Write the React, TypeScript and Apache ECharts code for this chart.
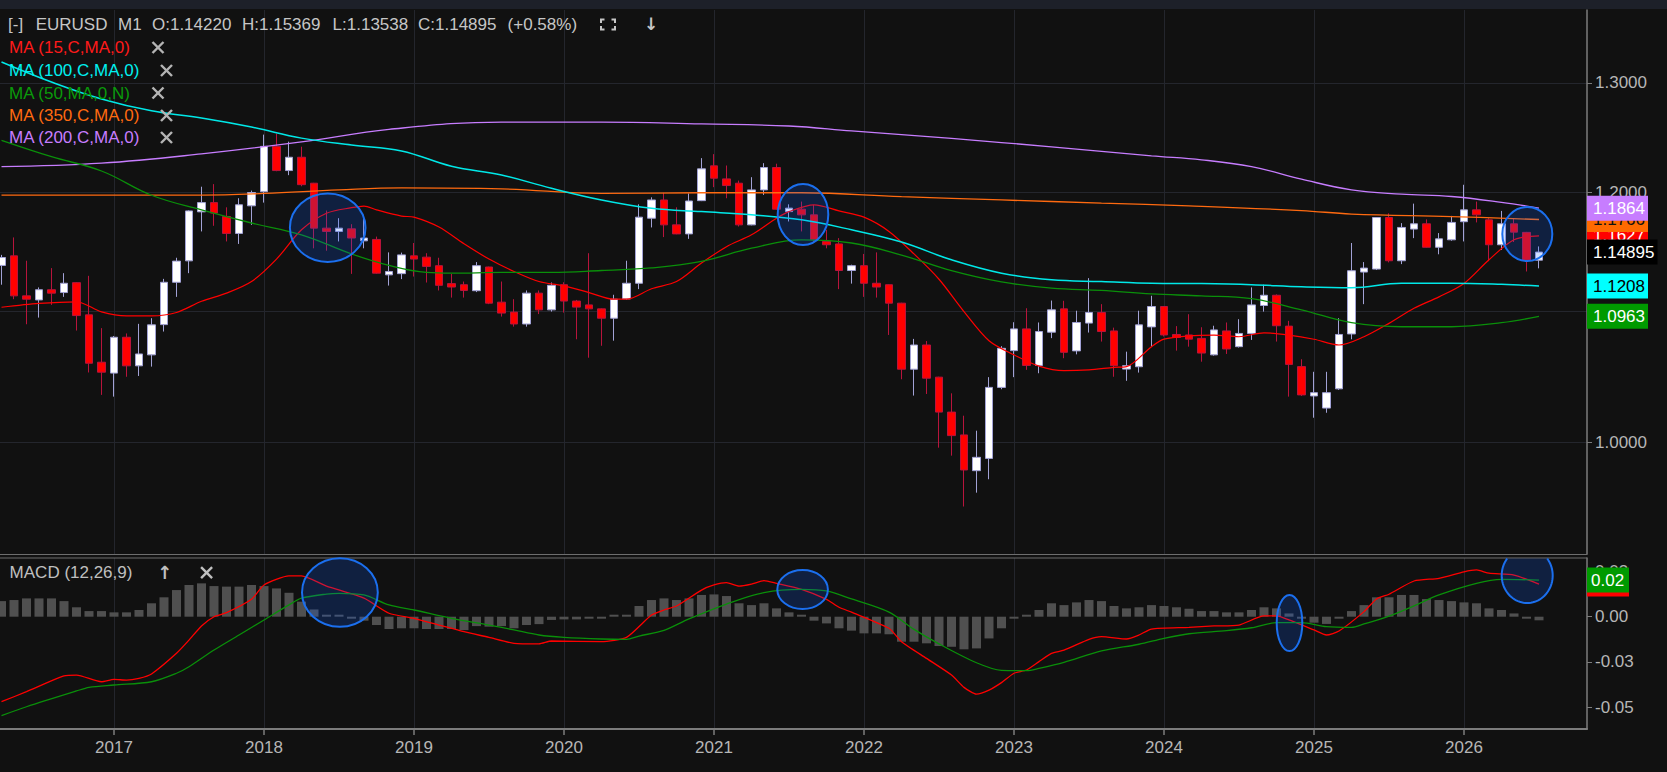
import React, { useEffect, useRef } from "react";
import * as echarts from "echarts";

// ---------- data (monthly EURUSD, index 0 = 2016-04) ----------
const FIRST_YEAR = 2016;
const FIRST_MONTH = 4;

const opens = [
  1.1378, 1.1458, 1.1128, 1.1095, 1.1178, 1.1155, 1.1236, 1.0975, 1.0602, 1.0518,
  1.0797, 1.0574, 1.0659, 1.0897, 1.1239, 1.1416, 1.1832, 1.1912, 1.1792, 1.1647,
  1.1884, 1.2007, 1.2411, 1.2194, 1.2313, 1.2082, 1.1692, 1.1664, 1.1686, 1.1584,
  1.1596, 1.1300, 1.1310, 1.1458, 1.1447, 1.1376, 1.1228, 1.1219, 1.1170, 1.1365,
  1.1077, 1.0997, 1.0902, 1.1150, 1.1015, 1.1219, 1.1086, 1.1055, 1.1023, 1.0948,
  1.1103, 1.1231, 1.1777, 1.1935, 1.1720, 1.1643, 1.1929, 1.2236, 1.2120, 1.2082,
  1.1720, 1.2023, 1.2221, 1.1834, 1.1855, 1.1806, 1.1579, 1.1558, 1.1336, 1.1376,
  1.1231, 1.1219, 1.1069, 1.0548, 1.0736, 1.0487, 1.0223, 1.0054, 0.9795, 0.9883,
  1.0409, 1.0692, 1.0863, 1.0577, 1.0837, 1.1023, 1.0690, 1.0909, 1.0994, 1.0847,
  1.0549, 1.0567, 1.0879, 1.1042, 1.0819, 1.0815, 1.0788, 1.0659, 1.0847, 1.0723,
  1.0827, 1.1050, 1.1133, 1.0885, 1.0568, 1.0344, 1.0253, 1.0398, 1.0823, 1.1323,
  1.1348, 1.1783, 1.1417, 1.1684, 1.1729, 1.1530, 1.1593, 1.1747, 1.1849, 1.1763,
  1.1551, 1.1729, 1.1656, 1.1422,
];
const closes = [
  1.1444, 1.1128, 1.1101, 1.1178, 1.1150, 1.1231, 1.0969, 1.0594, 1.0525, 1.0797,
  1.0574, 1.0666, 1.0895, 1.1239, 1.1414, 1.1840, 1.1912, 1.1821, 1.1647, 1.1893,
  1.2000, 1.2411, 1.2194, 1.2313, 1.2069, 1.1692, 1.1664, 1.1692, 1.1608, 1.1608,
  1.1314, 1.1328, 1.1466, 1.1431, 1.1370, 1.1214, 1.1200, 1.1172, 1.1376, 1.1069,
  1.0989, 1.0902, 1.1150, 1.1015, 1.1214, 1.1086, 1.1037, 1.1023, 1.0948, 1.1101,
  1.1231, 1.1786, 1.1935, 1.1720, 1.1643, 1.1926, 1.2209, 1.2126, 1.2061, 1.1720,
  1.2023, 1.2221, 1.1855, 1.1864, 1.1806, 1.1593, 1.1551, 1.1336, 1.1376, 1.1231,
  1.1200, 1.1069, 1.0548, 1.0736, 1.0479, 1.0223, 1.0049, 0.9800, 0.9891, 1.0409,
  1.0710, 1.0863, 1.0577, 1.0842, 1.1015, 1.0679, 1.0914, 1.0994, 1.0842, 1.0575,
  1.0575, 1.0895, 1.1042, 1.0815, 1.0795, 1.0782, 1.0673, 1.0855, 1.0705, 1.0827,
  1.1055, 1.1133, 1.0888, 1.0585, 1.0352, 1.0369, 1.0369, 1.0819, 1.1334, 1.1356,
  1.1783, 1.1417, 1.1698, 1.1729, 1.1530, 1.1601, 1.1741, 1.1849, 1.1806, 1.1551,
  1.1729, 1.1658, 1.1422, 1.14895,
];
const lows = [
  1.1219, 1.1101, 1.0900, 1.0953, 1.1055, 1.1120, 1.0850, 1.0523, 1.0352, 1.0339,
  1.0490, 1.0496, 1.0568, 1.0842, 1.1120, 1.1314, 1.1664, 1.1712, 1.1579, 1.1558,
  1.1720, 1.1912, 1.2188, 1.2153, 1.2055, 1.1521, 1.1501, 1.1579, 1.1308, 1.1521,
  1.1310, 1.1212, 1.1265, 1.1286, 1.1237, 1.1172, 1.1114, 1.1114, 1.1159, 1.1061,
  1.0961, 1.0881, 1.0881, 1.0981, 1.1001, 1.0993, 1.0781, 1.0637, 1.0730, 1.0770,
  1.1095, 1.1183, 1.1698, 1.1616, 1.1640, 1.1601, 1.1925, 1.2047, 1.1950, 1.1706,
  1.1716, 1.1979, 1.1850, 1.1749, 1.1664, 1.1565, 1.1521, 1.1183, 1.1228, 1.1120,
  1.1114, 1.0815, 1.0471, 1.0347, 1.0359, 0.9961, 0.9903, 0.9542, 0.9639, 0.9734,
  1.0395, 1.0487, 1.0543, 1.0517, 1.0790, 1.0633, 1.0663, 1.0834, 1.0763, 1.0490,
  1.0459, 1.0522, 1.0723, 1.0803, 1.0692, 1.0723, 1.0606, 1.0653, 1.0666, 1.0716,
  1.0776, 1.1001, 1.0763, 1.0339, 1.0344, 1.0181, 1.0218, 1.0390, 1.0781, 1.1061,
  1.1340, 1.1403, 1.1389, 1.1607, 1.1527, 1.1471, 1.1585, 1.1579, 1.1741, 1.1414,
  1.1507, 1.1574, 1.1328, 1.13538,
];
const highs = [
  1.1466, 1.1613, 1.1417, 1.1197, 1.1356, 1.1314, 1.1240, 1.1292, 1.0869, 1.0807,
  1.0827, 1.0903, 1.0948, 1.1267, 1.1442, 1.1845, 1.2051, 1.2074, 1.1871, 1.1950,
  1.2017, 1.2518, 1.2527, 1.2454, 1.2408, 1.2085, 1.1843, 1.1777, 1.1726, 1.1806,
  1.1620, 1.1487, 1.1485, 1.1566, 1.1480, 1.1442, 1.1308, 1.1245, 1.1406, 1.1368,
  1.1245, 1.1101, 1.1172, 1.1172, 1.1237, 1.1239, 1.1095, 1.1480, 1.1026, 1.1137,
  1.1417, 1.1897, 1.1958, 1.1998, 1.1871, 1.1992, 1.2305, 1.2341, 1.2239, 1.2105,
  1.2135, 1.2260, 1.2255, 1.1897, 1.1921, 1.1892, 1.1678, 1.1607, 1.1384, 1.1474,
  1.1487, 1.1222, 1.1072, 1.0784, 1.0767, 1.0490, 1.0364, 1.0196, 1.0085, 1.0487,
  1.0727, 1.0916, 1.1028, 1.0914, 1.1090, 1.1088, 1.1008, 1.1273, 1.1061, 1.0873,
  1.0684, 1.1008, 1.1129, 1.1046, 1.0885, 1.0980, 1.0876, 1.0888, 1.0914, 1.0940,
  1.1197, 1.1219, 1.1140, 1.0927, 1.0625, 1.0528, 1.0528, 1.0948, 1.1566, 1.1406,
  1.1787, 1.1819, 1.1735, 1.1903, 1.1767, 1.1650, 1.1797, 1.2068, 1.1921, 1.1777,
  1.1840, 1.1777, 1.1660, 1.15369,
];

// moving averages: [month index, price]
const ma15: [number, number][] = [
  [0, 1.1036], [3, 1.1067], [6, 1.1080], [8, 1.0999], [10, 1.0967], [12, 1.0967],
  [14, 1.0994], [16, 1.1084], [18, 1.1150], [20, 1.1245], [22, 1.1431], [24, 1.1678],
  [26, 1.1820], [28, 1.1868], [29, 1.1882], [30, 1.1849], [32, 1.1795], [33, 1.1786],
  [35, 1.1701], [37, 1.1559], [39, 1.1431], [41, 1.1328], [43, 1.1245], [45, 1.1209],
  [47, 1.1155], [49, 1.1101], [50, 1.1101], [52, 1.1186], [54, 1.1245], [56, 1.1398],
  [58, 1.1535], [60, 1.1635], [62, 1.1777], [63, 1.1834], [65, 1.1892], [67, 1.1840],
  [69, 1.1786], [71, 1.1664], [73, 1.1474], [75, 1.1264], [77, 1.1001], [79, 1.0770],
  [81, 1.0659], [83, 1.0572], [85, 1.0537], [87, 1.0543], [89, 1.0562], [90, 1.0568],
  [92, 1.0723], [93, 1.0782], [95, 1.0808], [97, 1.0814], [99, 1.0801], [101, 1.0832],
  [103, 1.0814], [105, 1.0781], [107, 1.0736], [109, 1.0801], [111, 1.0907], [113, 1.1028],
  [115, 1.1120], [117, 1.1229], [119, 1.1425], [121, 1.1593], [123, 1.1627],
];
const ma100: [number, number][] = [
  [0, 1.3200], [4, 1.3008], [8, 1.2848], [12, 1.2737], [16, 1.2670], [20, 1.2587],
  [24, 1.2486], [28, 1.2423], [32, 1.2370], [36, 1.2232], [40, 1.2154], [44, 1.2037],
  [48, 1.1935], [52, 1.1863], [56, 1.1834], [60, 1.1806], [64, 1.1763], [68, 1.1678],
  [72, 1.1574], [76, 1.1425], [80, 1.1314], [84, 1.1259], [88, 1.1245], [92, 1.1231],
  [96, 1.1228], [100, 1.1219], [104, 1.1202], [108, 1.1194], [112, 1.1231], [116, 1.1231],
  [120, 1.1222], [123, 1.1208],
];
const ma50: [number, number][] = [
  [0, 1.2466], [4, 1.2318], [8, 1.2190], [12, 1.1976], [16, 1.1849], [20, 1.1736],
  [24, 1.1635], [28, 1.1474], [31, 1.1378], [34, 1.1320], [36, 1.1314], [40, 1.1320],
  [44, 1.1320], [48, 1.1336], [52, 1.1357], [56, 1.1412], [60, 1.1522], [64, 1.1593],
  [68, 1.1566], [72, 1.1465], [76, 1.1335], [80, 1.1242], [84, 1.1191], [88, 1.1172],
  [92, 1.1144], [96, 1.1128], [100, 1.1105], [104, 1.1015], [108, 1.0912], [112, 1.0880],
  [116, 1.0880], [120, 1.0912], [123, 1.0963],
];
const ma350: [number, number][] = [
  [0, 1.1978], [16, 1.1978], [21, 1.1992], [27, 1.2023], [32, 1.2040], [40, 1.2032],
  [48, 1.1992], [56, 1.1998], [64, 1.1998], [72, 1.1964], [80, 1.1935], [88, 1.1908],
  [95, 1.1884], [104, 1.1843], [108, 1.1813], [116, 1.1791], [123, 1.1766],
];
const ma200: [number, number][] = [
  [0, 1.2229], [8, 1.2260], [16, 1.2343], [24, 1.2451], [31, 1.2566], [40, 1.2633],
  [48, 1.2633], [56, 1.2616], [63, 1.2597], [68, 1.2552], [76, 1.2483], [84, 1.2407],
  [92, 1.2325], [96, 1.2290], [100, 1.2229], [104, 1.2118], [108, 1.2023], [112, 1.1986],
  [116, 1.1965], [120, 1.1914], [123, 1.1864],
];

// MACD (12,26,9)
const macdHist = [
  0.0086, 0.0092, 0.0101, 0.0101, 0.0101, 0.0086, 0.0052, 0.0031, 0.0031, 0.0024,
  0.0024, 0.0037, 0.0074, 0.0107, 0.0147, 0.0175, 0.0184, 0.0169, 0.0166, 0.0166,
  0.0175, 0.0169, 0.0156, 0.0132, 0.0083, 0.0040, 0.0009, 0.0006, -0.0004, -0.0022,
  -0.0046, -0.0068, -0.0064, -0.0064, -0.0068, -0.0068, -0.0068, -0.0074, -0.0052, -0.0055,
  -0.0052, -0.0064, -0.0046, -0.0041, -0.0018, -0.0015, -0.0015, -0.0009, -0.0009, 0.0004,
  0.0009, 0.0059, 0.0092, 0.0101, 0.0092, 0.0101, 0.0120, 0.0123, 0.0114, 0.0074,
  0.0064, 0.0074, 0.0046, 0.0024, 0.0002, -0.0022, -0.0037, -0.0064, -0.0077, -0.0092,
  -0.0092, -0.0097, -0.0138, -0.0138, -0.0147, -0.0162, -0.0166, -0.0180, -0.0175, -0.0120,
  -0.0064, -0.0004, 0.0009, 0.0037, 0.0074, 0.0064, 0.0079, 0.0092, 0.0086, 0.0059,
  0.0046, 0.0052, 0.0064, 0.0059, 0.0052, 0.0044, 0.0031, 0.0031, 0.0024, 0.0024,
  0.0037, 0.0052, 0.0046, 0.0018, -0.0007, -0.0033, -0.0040, -0.0009, 0.0031, 0.0064,
  0.0107, 0.0107, 0.0120, 0.0120, 0.0097, 0.0092, 0.0086, 0.0079, 0.0074, 0.0046,
  0.0037, 0.0018, -0.0004, -0.0020,
];
const macdMain: [number, number][] = [
  [0, -0.0469], [2, -0.0414], [5, -0.0327], [6, -0.0322], [8, -0.0359], [9, -0.0346],
  [10, -0.0350], [11, -0.0340], [12, -0.0316], [14, -0.0202], [15, -0.0129], [16, -0.0051],
  [17, 0.0000], [18, 0.0022], [20, 0.0096], [21, 0.0175], [23, 0.0225], [24, 0.0225],
  [26, 0.0169], [29, 0.0102], [31, 0.0019], [33, -0.0009], [35, -0.0046], [37, -0.0083],
  [39, -0.0114], [41, -0.0147], [43, -0.0150], [44, -0.0134], [48, -0.0138], [50, -0.0114],
  [52, 0.0009], [53, 0.0037], [54, 0.0059], [56, 0.0147], [57, 0.0175], [58, 0.0188],
  [59, 0.0169], [60, 0.0180], [61, 0.0199], [62, 0.0184], [64, 0.0151], [66, 0.0096],
  [67, 0.0052], [68, 0.0025], [71, -0.0064], [72, -0.0138], [74, -0.0230], [76, -0.0322],
  [77, -0.0390], [78, -0.0427], [79, -0.0405], [80, -0.0364], [81, -0.0312], [82, -0.0294],
  [83, -0.0248], [84, -0.0202], [85, -0.0185], [87, -0.0125], [88, -0.0110], [90, -0.0123],
  [91, -0.0101], [92, -0.0068], [95, -0.0059], [97, -0.0051], [99, -0.0046], [101, 0.0004],
  [102, 0.0004], [103, -0.0018], [105, -0.0073], [106, -0.0101], [107, -0.0079], [109, 0.0028],
  [110, 0.0098], [111, 0.0124], [113, 0.0197], [115, 0.0212], [117, 0.0248], [118, 0.0258],
  [119, 0.0240], [121, 0.0230], [123, 0.0180],
];
const macdSignal: [number, number][] = [
  [0, -0.0546], [2, -0.0497], [6, -0.0410], [7, -0.0390], [9, -0.0377], [12, -0.0359],
  [14, -0.0312], [15, -0.0276], [17, -0.0184], [19, -0.0101], [21, -0.0018], [23, 0.0065],
  [24, 0.0102], [26, 0.0125], [27, 0.0129], [29, 0.0120], [31, 0.0065], [33, 0.0037],
  [36, -0.0009], [39, -0.0046], [41, -0.0073], [43, -0.0101], [45, -0.0114], [48, -0.0123],
  [50, -0.0125], [51, -0.0107], [53, -0.0075], [55, -0.0012], [58, 0.0070], [61, 0.0133],
  [64, 0.0151], [66, 0.0142], [68, 0.0098], [71, 0.0025], [73, -0.0070], [75, -0.0150],
  [78, -0.0254], [80, -0.0296], [82, -0.0298], [83, -0.0285], [85, -0.0252], [88, -0.0189],
  [91, -0.0152], [93, -0.0119], [95, -0.0094], [98, -0.0077], [100, -0.0061], [102, -0.0033],
  [104, -0.0033], [106, -0.0055], [108, -0.0059], [109, -0.0040], [111, 0.0003], [113, 0.0060],
  [115, 0.0120], [118, 0.0184], [120, 0.0206], [123, 0.0202],
];

// axis ticks
const yearTicks = ["2017-01", "2018-01", "2019-01", "2020-01", "2021-01", "2022-01", "2023-01", "2024-01", "2025-01", "2026-01"];
const priceTicks = [1.0, 1.1, 1.2, 1.3];
const macdTicks = [0.025, 0, -0.025, -0.05];

// ---------- helpers ----------
const FONT = "'Liberation Sans', Arial, sans-serif";
const AXIS_TEXT = "#b6b6b6";
const GRID_LINE = "#24262d";
const AXIS_LINE = "#7c7c7c";
const AXIS_X = 1587;

function monthIndex(label: string): number {
  const [y, m] = label.split("-").map(Number);
  return (y - FIRST_YEAR) * 12 + (m - FIRST_MONTH);
}
function yearOf(idx: number): number {
  return FIRST_YEAR + Math.floor((Math.round(idx) + FIRST_MONTH - 1) / 12);
}
const lnPts = (pts: [number, number][]) => pts.map(([i, v]) => [i, Math.log(v)]);
const last = (pts: [number, number][]) => pts[pts.length - 1][1];

function ellipse(cx: number, cy: number, rx: number, ry: number) {
  return {
    type: "ellipse",
    shape: { cx, cy, rx, ry },
    style: { fill: "rgba(15,95,255,0.2)", stroke: "#1b6fee", lineWidth: 2 },
    z: 100,
    silent: true,
  };
}

function clippedEllipse(cx: number, cy: number, rx: number, ry: number, top: number) {
  const fillPts: number[][] = [];
  for (let k = 0; k <= 72; k++) {
    const t = (k / 72) * Math.PI * 2;
    fillPts.push([cx + rx * Math.cos(t), Math.max(top, cy + ry * Math.sin(t))]);
  }
  const t0 = Math.asin((top - cy) / ry);
  const t1 = Math.PI - t0;
  const arcPts: number[][] = [];
  for (let k = 0; k <= 60; k++) {
    const t = t0 + ((t1 - t0) * k) / 60;
    arcPts.push([cx + rx * Math.cos(t), cy + ry * Math.sin(t)]);
  }
  return [
    { type: "polygon", shape: { points: fillPts }, style: { fill: "rgba(15,95,255,0.2)" }, z: 100, silent: true },
    { type: "polyline", shape: { points: arcPts }, style: { stroke: "#1b6fee", lineWidth: 2, fill: null }, z: 100, silent: true },
  ];
}

function txt(x: number, y: number, text: string, fill: string, size = 17, extra: any = {}) {
  return {
    type: "text",
    x,
    y,
    z: 100,
    silent: true,
    style: { text, fill, fontSize: size, fontFamily: FONT, verticalAlign: "middle", align: "left", ...extra },
  };
}

function cross(cx: number, cy: number, color: string) {
  const h = 5.5;
  return [
    { type: "line", shape: { x1: cx - h, y1: cy - h, x2: cx + h, y2: cy + h }, style: { stroke: color, lineWidth: 2.4 }, z: 100, silent: true },
    { type: "line", shape: { x1: cx - h, y1: cy + h, x2: cx + h, y2: cy - h }, style: { stroke: color, lineWidth: 2.4 }, z: 100, silent: true },
  ];
}

// each badge gets its own z layer so a later badge covers both box and text of an earlier one
function badge(order: number, cy: number, text: string, bg: string, fg: string, width: number, textDx: number) {
  const z = 110 + order * 2;
  return [
    { type: "rect", shape: { x: AXIS_X, y: cy - 12.5, width, height: 25 }, style: { fill: bg }, z, silent: true },
    {
      type: "text",
      x: AXIS_X + textDx,
      y: cy,
      z: z + 1,
      silent: true,
      style: { text, fill: fg, fontSize: 17, fontFamily: FONT, verticalAlign: "middle", align: "left" },
    },
  ];
}

const X_MIN = -0.12;
const X_MAX = 126.84;
const Y_MIN = -0.081533;
const Y_MAX = 0.315547;
const M_MIN = -0.061976;
const M_MAX = 0.032395;

function staticGraphics(): any[] {
  return [
    { type: "rect", shape: { x: 0, y: 0, width: 1667, height: 9 }, style: { fill: "#1d2029" }, z: 100, silent: true },
    { type: "line", shape: { x1: 0, y1: 558, x2: AXIS_X, y2: 558 }, style: { stroke: "#6e6e6e", lineWidth: 1 }, z: 100, silent: true },
    // header
    txt(8, 24, "[-]", "#c6c6c6"),
    txt(35.7, 24, "EURUSD", "#c6c6c6"),
    txt(118, 24, "M1", "#c6c6c6"),
    txt(152, 24, "O:1.14220", "#c6c6c6"),
    txt(242, 24, "H:1.15369", "#c6c6c6"),
    txt(332.6, 24, "L:1.13538", "#c6c6c6"),
    txt(418, 24, "C:1.14895", "#c6c6c6"),
    txt(507.6, 24, "(+0.58%)", "#c6c6c6"),
    { type: "polyline", shape: { points: [[601, 23], [601, 19.5], [604.5, 19.5]] }, style: { stroke: "#c6c6c6", lineWidth: 2, fill: null }, z: 100 },
    { type: "polyline", shape: { points: [[611.5, 19.5], [615, 19.5], [615, 23]] }, style: { stroke: "#c6c6c6", lineWidth: 2, fill: null }, z: 100 },
    { type: "polyline", shape: { points: [[601, 26], [601, 29.5], [604.5, 29.5]] }, style: { stroke: "#c6c6c6", lineWidth: 2, fill: null }, z: 100 },
    { type: "polyline", shape: { points: [[611.5, 29.5], [615, 29.5], [615, 26]] }, style: { stroke: "#c6c6c6", lineWidth: 2, fill: null }, z: 100 },
    txt(651, 24, "↓", "#c6c6c6", 17, { align: "center", fontFamily: "'DejaVu Sans'", fontWeight: "bold" }),
    // legend
    txt(9, 47.5, "MA (15,C,MA,0)", "#ff1a1a"),
    ...cross(158, 47.5, "#b4b4b4"),
    txt(9, 70.5, "MA (100,C,MA,0)", "#00f0f0"),
    ...cross(166.5, 70.5, "#b4b4b4"),
    txt(9, 93, "MA (50,MA,0,N)", "#0a9a0a"),
    ...cross(158, 93, "#b4b4b4"),
    txt(9, 115.5, "MA (350,C,MA,0)", "#ff6a10"),
    ...cross(166.5, 115.5, "#b4b4b4"),
    txt(9, 137.5, "MA (200,C,MA,0)", "#c77dff"),
    ...cross(166.5, 137.5, "#b4b4b4"),
    // MACD title
    txt(9.6, 572.7, "MACD (12,26,9)", "#c0c0c0"),
    txt(164.6, 572.7, "↑", "#c0c0c0", 18, { align: "center", fontFamily: "'DejaVu Sans'", fontWeight: "bold" }),
    ...cross(206.6, 572.7, "#c0c0c0"),
    // annotation circles
    ellipse(327.7, 227.7, 37.8, 34.2),
    ellipse(803, 214.5, 25.3, 30.5),
    ellipse(1527.3, 234, 25, 27),
    ellipse(339.9, 592.5, 37.9, 34.2),
    ellipse(802.6, 589.5, 25.3, 19.5),
    ellipse(1289.5, 623, 12.8, 28),
    ...clippedEllipse(1527.2, 575.5, 25.5, 27.5, 558.5),
  ];
}

function buildOption() {
  const yearIdx = yearTicks.map(monthIndex);
  const priceTickVals = priceTicks.map((p) => Math.log(p));

  const candleData = opens.map((o, i) => [i, Math.log(o), Math.log(closes[i]), Math.log(lows[i]), Math.log(highs[i])]);
  const histData = macdHist.map((v, i) => [i, v]);

  const maLine = (name: string, pts: [number, number][], color: string, width = 1.2, smooth: number | boolean = 0.4) => ({
    name,
    type: "line",
    xAxisIndex: 0,
    yAxisIndex: 0,
    data: lnPts(pts),
    showSymbol: false,
    symbol: "none",
    smooth,
    lineStyle: { color, width },
    silent: true,
    z: 3,
  });

  return {
    animation: false,
    backgroundColor: "#111111",
    textStyle: { fontFamily: FONT },
    grid: [
      { left: 0, top: 10, width: AXIS_X, height: 544, outerBoundsMode: "none", containLabel: false },
      { left: 0, top: 558, width: AXIS_X, height: 171, outerBoundsMode: "none", containLabel: false },
    ],
    xAxis: [
      {
        gridIndex: 0,
        type: "value",
        min: X_MIN,
        max: X_MAX,
        axisLine: { show: true, onZero: false, lineStyle: { color: "#6e6e6e", width: 1 } },
        axisTick: { show: false, customValues: yearIdx },
        axisLabel: { show: false, customValues: yearIdx },
        splitLine: { show: true, lineStyle: { color: GRID_LINE, width: 1 } },
      },
      {
        gridIndex: 1,
        type: "value",
        min: X_MIN,
        max: X_MAX,
        axisLine: { show: true, onZero: false, lineStyle: { color: AXIS_LINE, width: 2 } },
        axisTick: { show: true, customValues: yearIdx, length: 6, lineStyle: { color: AXIS_LINE, width: 1.5 } },
        axisLabel: {
          show: true,
          customValues: yearIdx,
          formatter: (v: number) => String(yearOf(v)),
          color: AXIS_TEXT,
          fontSize: 17,
          fontFamily: FONT,
          margin: 10,
        },
        splitLine: { show: true, lineStyle: { color: GRID_LINE, width: 1 } },
      },
    ],
    yAxis: [
      {
        gridIndex: 0,
        type: "value",
        position: "right",
        min: Y_MIN,
        max: Y_MAX,
        axisLine: { show: true, onZero: false, lineStyle: { color: AXIS_LINE, width: 1.5 } },
        axisTick: { show: true, customValues: priceTickVals, length: 5, lineStyle: { color: AXIS_LINE } },
        axisLabel: {
          show: true,
          customValues: priceTickVals,
          formatter: (v: number) => Math.exp(v).toFixed(4),
          color: AXIS_TEXT,
          fontSize: 17,
          fontFamily: FONT,
          margin: 8,
        },
        splitLine: { show: true, lineStyle: { color: GRID_LINE, width: 1 } },
      },
      {
        gridIndex: 1,
        type: "value",
        position: "right",
        min: M_MIN,
        max: M_MAX,
        axisLine: { show: true, onZero: false, lineStyle: { color: AXIS_LINE, width: 1.5 } },
        axisTick: { show: true, customValues: macdTicks, length: 5, lineStyle: { color: AXIS_LINE } },
        axisLabel: {
          show: true,
          customValues: macdTicks,
          formatter: (v: number) => v.toFixed(2),
          color: AXIS_TEXT,
          fontSize: 17,
          fontFamily: FONT,
          margin: 8,
        },
        splitLine: { show: false },
      },
    ],
    series: [
      {
        name: "EURUSD",
        type: "candlestick",
        xAxisIndex: 0,
        yAxisIndex: 0,
        data: candleData,
        barWidth: 8,
        silent: true,
        z: 2,
        itemStyle: {
          color: "#ffffff",
          color0: "#ff0000",
          borderColor: "#a2a2d6",
          borderColor0: "#b8143c",
          borderWidth: 1,
        },
      },
      maLine("MA15", ma15, "#ff0000", 1.2, 0.3),
      maLine("MA350", ma350, "#ff6a10", 1.3),
      maLine("MA200", ma200, "#c77dff", 1.3),
      maLine("MA100", ma100, "#00e8e8", 1.5),
      maLine("MA50", ma50, "#0a8f0a", 1.3),
      {
        name: "hist",
        type: "bar",
        xAxisIndex: 1,
        yAxisIndex: 1,
        data: histData,
        barWidth: 9,
        barMinHeight: 2,
        silent: true,
        itemStyle: { color: "#505050" },
      },
      {
        name: "macd",
        type: "line",
        xAxisIndex: 1,
        yAxisIndex: 1,
        data: macdMain,
        showSymbol: false,
        symbol: "none",
        smooth: 0.2,
        lineStyle: { color: "#ff0000", width: 1.3 },
        silent: true,
        z: 3,
      },
      {
        name: "signal",
        type: "line",
        xAxisIndex: 1,
        yAxisIndex: 1,
        data: macdSignal,
        showSymbol: false,
        symbol: "none",
        smooth: 0.3,
        lineStyle: { color: "#0a8f0a", width: 1.3 },
        silent: true,
        z: 3,
      },
    ],
  };
}

export default function App() {
  const ref = useRef<HTMLDivElement>(null);
  useEffect(() => {
    document.body.style.margin = "0";
    const chart = echarts.init(ref.current as HTMLDivElement, null, { renderer: "svg" });
    chart.setOption(buildOption() as any);

    // value badges on the price axis, placed through the chart's own y scales
    const py = (v: number) => chart.convertToPixel({ yAxisIndex: 0 } as any, Math.log(v)) as number;
    const my = (v: number) => chart.convertToPixel({ yAxisIndex: 1 } as any, v) as number;
    const lastClose = closes[closes.length - 1];
    const badges: any[] = [
      ...badge(0, py(last(ma15)), last(ma15).toFixed(4), "#ff0000", "#ffffff", 61, 6),
      ...badge(1, py(last(ma350)), last(ma350).toFixed(4), "#ff6a00", "#111111", 61, 6),
      ...badge(2, py(last(ma200)), last(ma200).toFixed(4), "#c77dff", "#ffffff", 61, 6),
      ...badge(3, py(lastClose), lastClose.toFixed(5), "#000000", "#ffffff", 70.5, 6),
      ...badge(4, py(last(ma100)), last(ma100).toFixed(4), "#00ffff", "#000000", 61, 6),
      ...badge(5, py(last(ma50)), last(ma50).toFixed(4), "#009a00", "#ffffff", 61, 6),
      ...badge(6, my(last(macdMain)), last(macdMain).toFixed(2), "#ff0000", "#ffffff", 42, 4),
      ...badge(7, my(last(macdSignal)), last(macdSignal).toFixed(2), "#009a00", "#ffffff", 42, 4),
    ];
    chart.setOption({ graphic: { elements: [...staticGraphics(), ...badges] } } as any);
    return () => chart.dispose();
  }, []);
  return (
    <div
      ref={ref}
      style={{ position: "fixed", left: 0, top: 0, width: 1667, height: 772, background: "#111111" }}
    />
  );
}
